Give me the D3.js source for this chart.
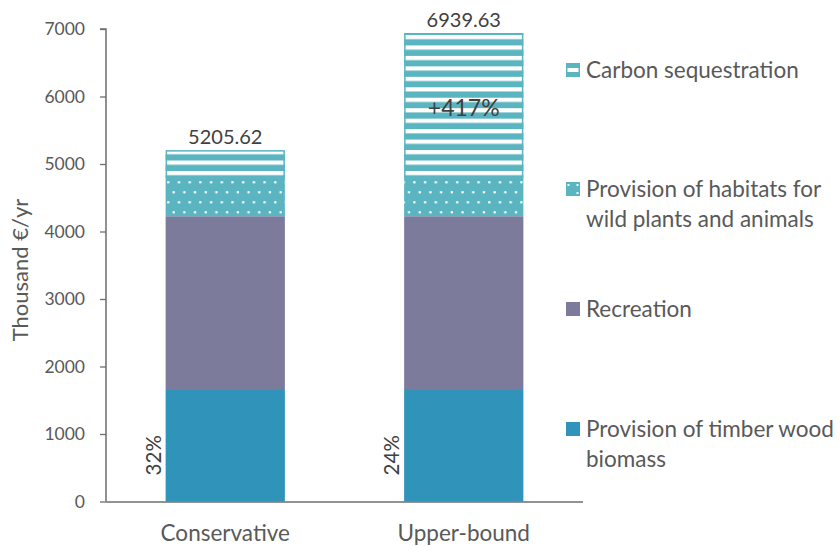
<!DOCTYPE html>
<html>
<head>
<meta charset="utf-8">
<script src="https://cdn.jsdelivr.net/npm/d3@7"></script>
<style>
  html, body { margin: 0; padding: 0; background: #ffffff; }
  svg text { font-family: Lato, "Open Sans", sans-serif; fill: #595959; }
</style>
</head>
<body>
<svg id="chart" width="840" height="546"></svg>
<script>
// Scenarios and ecosystem service values (thousand €/yr)
const scenarios = ["Conservative", "Upper-bound"];
const timber = [1666, 1666];
const recreation = [2560, 2560];
const habitats = [580, 580];
const carbon = [399.62, 2133.63];
const totals = [5205.62, 6939.63];
const timberShare = ["32%", "24%"];
const carbonChange = ["", "+417%"];
const yTicks = [0, 1000, 2000, 3000, 4000, 5000, 6000, 7000];

const legendLines = [["Carbon sequestration"],
  ["Provision of habitats for", "wild plants and animals"],
  ["Recreation"],
  ["Provision of timber wood", "biomass"]];

const teal = "#5BB5C1", purple = "#7D7B9C", blue = "#3093B9";

const svg = d3.select("#chart");
const defs = svg.append("defs");

// horizontal white stripes for carbon sequestration
const stripes = defs.append("pattern").attr("id", "stripes")
  .attr("patternUnits", "userSpaceOnUse").attr("width", 10).attr("height", 10.46)
  .attr("y", 3.6);
stripes.append("rect").attr("width", 10).attr("height", 10.46).attr("fill", teal);
stripes.append("rect").attr("y", 0).attr("width", 10).attr("height", 4.2).attr("fill", "#ffffff");

// sparse white dots for habitat provision
const dots = defs.append("pattern").attr("id", "dots")
  .attr("patternUnits", "userSpaceOnUse").attr("width", 21.4).attr("height", 20)
  .attr("x", 167).attr("y", 181);
dots.append("rect").attr("width", 21.4).attr("height", 20).attr("fill", teal);
[[0.2, 0.2], [10.9, 0.2], [5.55, 10.2], [16.25, 10.2]].forEach(([px, py]) => {
  dots.append("rect").attr("x", px).attr("y", py).attr("width", 2.2).attr("height", 2.2)
    .attr("fill", "#ffffff");
});

const x = d3.scaleBand().domain(scenarios).range([106, 583]).paddingInner(0.5).paddingOuter(0.25);
const y = d3.scaleLinear().domain([0, 7000]).range([501.5, 29]);

// y axis
const yAxis = svg.append("g").attr("transform", "translate(106,0)")
  .call(d3.axisLeft(y).tickValues(yTicks).tickSize(6).tickPadding(15).tickFormat(d3.format("d")));
yAxis.select(".domain").attr("stroke", "#6e6e6e").attr("stroke-width", 1.5)
  .attr("d", `M-6,${y(7000)}H0V${y(0)}`);
yAxis.selectAll(".tick line").attr("stroke", "#6e6e6e").attr("stroke-width", 1.3);
yAxis.selectAll(".tick text").style("font-size", "17.5px").attr("fill", "#595959");

svg.append("text").attr("transform", `translate(28,270) rotate(-90)`)
  .attr("text-anchor", "middle").style("font-size", "22px").text("Thousand €/yr");

// stacked bars
const stackData = scenarios.map((s, i) => ({
  scenario: s, timber: timber[i], recreation: recreation[i], habitats: habitats[i], carbon: carbon[i]
}));
const keys = ["timber", "recreation", "habitats", "carbon"];
const fills = { timber: blue, recreation: purple, habitats: "url(#dots)", carbon: "url(#stripes)" };
const stacked = d3.stack().keys(keys)(stackData);

stacked.forEach(layer => {
  svg.append("g").selectAll("rect").data(layer).join("rect")
    .attr("x", d => x(d.data.scenario))
    .attr("width", x.bandwidth())
    .attr("y", d => y(d[1]))
    .attr("height", d => y(d[0]) - y(d[1]))
    .attr("fill", fills[layer.key]);
});
// outline of carbon segment
const carbonLayer = stacked[3];
svg.append("g").selectAll("rect").data(carbonLayer).join("rect")
  .attr("x", d => x(d.data.scenario) + 0.75)
  .attr("width", x.bandwidth() - 1.5)
  .attr("y", d => y(d[1]) + 0.75)
  .attr("height", d => y(d[0]) - y(d[1]) - 0.75)
  .attr("fill", "none").attr("stroke", teal).attr("stroke-width", 1.5);

// x axis baseline and labels
svg.append("line").attr("x1", 106).attr("x2", 583).attr("y1", y(0) + 0.5).attr("y2", y(0) + 0.5)
  .attr("stroke", "#6e6e6e").attr("stroke-width", 1.5);
svg.selectAll(".xlab").data(scenarios).join("text")
  .attr("x", d => x(d) + x.bandwidth() / 2).attr("y", 541)
  .attr("text-anchor", "middle").style("font-size", "22.5px").text(d => d);

// totals
svg.selectAll(".total").data(totals).join("text")
  .attr("x", (d, i) => x(scenarios[i]) + x.bandwidth() / 2)
  .attr("y", d => y(d) - 6)
  .attr("text-anchor", "middle").style("font-size", "20px")
  .style("fill", "#404040").text(d => d.toFixed(2));

// timber share labels
svg.selectAll(".share").data(timberShare).join("text")
  .attr("transform", (d, i) => `translate(${x(scenarios[i]) - 5},${y(timber[i] / 2) + 10}) rotate(-90)`)
  .attr("text-anchor", "middle").style("font-size", "20.5px").style("fill", "#404040").text(d => d);

// carbon change label
svg.selectAll(".change").data(carbonChange).join("text")
  .attr("x", (d, i) => x(scenarios[i]) + x.bandwidth() / 2)
  .attr("y", 116)
  .attr("text-anchor", "middle").style("font-size", "23px").style("fill", "#404040").text(d => d);

// legend
const legendY = [70, 189, 309, 429];
const legendFill = ["url(#lgStripe)", "url(#lgDots)", purple, blue];
const lgS = defs.append("pattern").attr("id", "lgStripe").attr("patternUnits", "objectBoundingBox")
  .attr("width", 1).attr("height", 1);
lgS.append("rect").attr("width", 14).attr("height", 14).attr("fill", teal);
lgS.append("rect").attr("x", 1.5).attr("y", 5).attr("width", 11).attr("height", 4).attr("fill", "#fff");
const lgD = defs.append("pattern").attr("id", "lgDots").attr("patternUnits", "objectBoundingBox")
  .attr("width", 1).attr("height", 1);
lgD.append("rect").attr("width", 14).attr("height", 14).attr("fill", teal);
[[1.5, 2], [10.5, 2], [10.5, 10]].forEach(([px, py]) =>
  lgD.append("rect").attr("x", px).attr("y", py).attr("width", 2).attr("height", 2).attr("fill", "#fff"));

const lg = svg.append("g");
legendLines.forEach((lines, i) => {
  lg.append("rect").attr("x", 566).attr("y", legendY[i] - 7).attr("width", 14).attr("height", 14)
    .attr("fill", legendFill[i]);
  lines.forEach((t, j) => {
    lg.append("text").attr("x", 586).attr("y", legendY[i] + 8 + j * 30)
      .style("font-size", "22.5px").text(t);
  });
});
</script>
</body>
</html>
